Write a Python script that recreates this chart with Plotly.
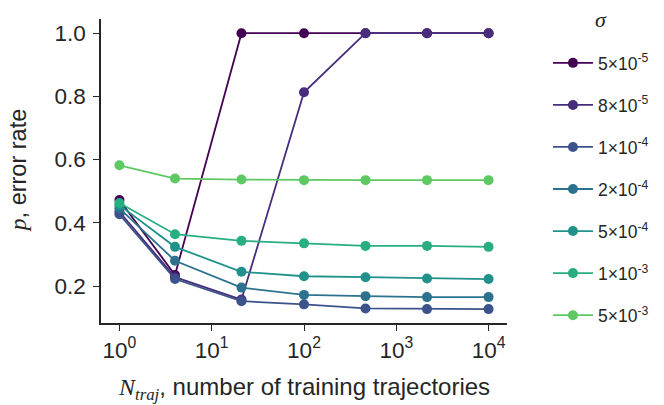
import plotly.graph_objects as go

n_traj = [1, 4, 21, 100, 464, 2154, 10000]
sigma_labels = ["5×10<sup>-5</sup>", "8×10<sup>-5</sup>", "1×10<sup>-4</sup>", "2×10<sup>-4</sup>",
                "5×10<sup>-4</sup>", "1×10<sup>-3</sup>", "5×10<sup>-3</sup>"]
p_5e5 = [0.472, 0.235, 1.0, 1.0, 1.0, 1.0, 1.0]
p_8e5 = [0.435, 0.228, 0.157, 0.813, 1.0, 1.0, 1.0]
p_1e4 = [0.427, 0.222, 0.152, 0.142, 0.129, 0.127, 0.127]
p_2e4 = [0.446, 0.280, 0.195, 0.172, 0.168, 0.165, 0.165]
p_5e4 = [0.456, 0.324, 0.245, 0.231, 0.228, 0.224, 0.222]
p_1e3 = [0.463, 0.364, 0.343, 0.335, 0.327, 0.327, 0.324]
p_5e3 = [0.582, 0.540, 0.537, 0.535, 0.535, 0.535, 0.535]
series = [p_5e5, p_8e5, p_1e4, p_2e4, p_5e4, p_1e3, p_5e3]
colors = ["#440154", "#472d7b", "#3b528b", "#2c728e", "#21918c", "#28ae80", "#5ec962"]

x_tickvals = [1, 10, 100, 1000, 10000]
x_ticktext = ["10<sup>0</sup>", "10<sup>1</sup>", "10<sup>2</sup>", "10<sup>3</sup>", "10<sup>4</sup>"]
y_tickvals = [0.2, 0.4, 0.6, 0.8, 1.0]
y_ticktext = ["0.2", "0.4", "0.6", "0.8", "1.0"]

TXT = "#262626"
FONT = "Liberation Sans, Arial, sans-serif"

fig = go.Figure()
for i, (lab, ys, c) in enumerate(zip(sigma_labels, series, colors)):
    fig.add_trace(go.Scatter(
        x=n_traj, y=ys, mode="lines+markers", name=lab,
        legendgroup=f"g{i}",
        line=dict(color=c, width=1.8),
        marker=dict(color=c, size=10),
    ))

axis_common = dict(
    showline=True, linecolor=TXT, linewidth=1.5,
    ticks="outside", ticklen=6, tickwidth=1.3, tickcolor=TXT,
    showgrid=False, zeroline=False, mirror=False,
    tickfont=dict(family=FONT, size=22.5, color=TXT),
)

fig.update_layout(
    width=664, height=405,
    margin=dict(l=101, r=157, t=19, b=82, autoexpand=False),
    plot_bgcolor="white", paper_bgcolor="white",
    font=dict(family=FONT, color=TXT),
    xaxis=dict(type="log", range=[-0.2, 4.2], tickvals=x_tickvals, ticktext=x_ticktext, **axis_common),
    yaxis=dict(range=[0.083, 1.045], tickvals=y_tickvals, ticktext=y_ticktext,
               ticklabelstandoff=3, **axis_common),
    legend=dict(
        x=1.1009, y=0.9145, xanchor="left", yanchor="top",
        font=dict(family=FONT, size=17.5, color=TXT),
        tracegroupgap=16.3,
        itemwidth=40,
        maxheight=400,
        bgcolor="rgba(0,0,0,0)",
    ),
    annotations=[
        dict(text="<i>σ</i>", xref="paper", yref="paper",
             x=(601 - 101) / 406, y=(323 - 20) / 304, xanchor="center", yanchor="middle",
             showarrow=False, font=dict(family="Liberation Serif, serif", size=22, color=TXT)),
        dict(text="<span style='font-family:Liberation Serif'><i>p</i></span>, error rate",
             xref="paper", yref="paper", x=-0.204, y=0.5, xanchor="center", yanchor="middle",
             textangle=-90, showarrow=False, font=dict(family=FONT, size=23.5, color=TXT)),
        dict(text="<span style='font-family:Liberation Serif'><i>N<sub>traj</sub></i></span>, number of training trajectories",
             xref="paper", yref="paper", x=0.5, y=-0.214, xanchor="center", yanchor="middle",
             showarrow=False, font=dict(family=FONT, size=24, color=TXT)),
    ],
)

fig.write_html("out.html")
